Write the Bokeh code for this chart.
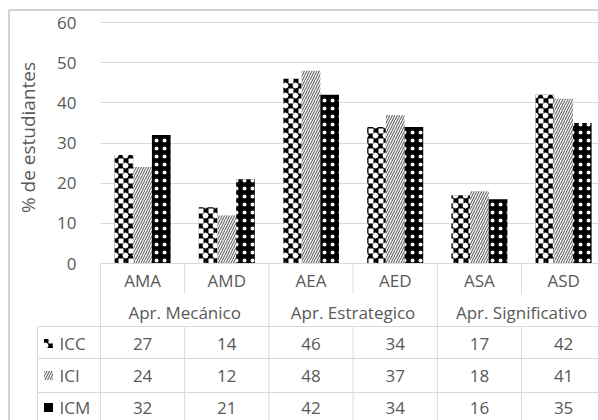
from math import pi
from bokeh.plotting import figure
from bokeh.models import ColumnDataSource, Range1d, FixedTicker
from bokeh.core.properties import value
from bokeh.transform import dodge
from bokeh.embed import file_html
from bokeh.resources import INLINE

categories = ["AMA", "AMD", "AEA", "AED", "ASA", "ASD"]
groups = ["Apr. Mecánico", "Apr. Estrategico", "Apr. Significativo"]
series = ["ICC", "ICI", "ICM"]
icc = [27, 14, 46, 34, 17, 42]
ici = [24, 12, 48, 37, 18, 41]
icm = [32, 21, 42, 34, 16, 35]
y_ticks = [0, 10, 20, 30, 40, 50, 60]
y_label = "% de estudiantes"

FONT = "Open Sans"
TXT = "#595959"
GRID = "#d9d9d9"
FS = "17px"

PX_Y = 241 / 60.0
PX_X = 84.2
def ydat(page_y):
    return (263 - page_y) / PX_Y
def xdat(page_x):
    return (page_x - 100) / PX_X

p = figure(width=598, height=420, output_backend="svg", toolbar_location=None,
           x_range=Range1d(0, xdat(598)), y_range=Range1d(ydat(420), ydat(0)),
           min_border_left=100, min_border_right=0, min_border_top=0, min_border_bottom=0)
p.outline_line_color = None
p.background_fill_color = "white"
p.border_fill_color = "white"
p.xaxis.visible = False
p.xgrid.visible = False
p.yaxis.ticker = FixedTicker(ticks=y_ticks)
p.ygrid.ticker = FixedTicker(ticks=y_ticks)
p.ygrid.grid_line_color = GRID
p.yaxis.axis_line_color = None
p.yaxis.major_tick_line_color = None
p.yaxis.minor_tick_line_color = None
p.yaxis.major_label_standoff = 18
p.yaxis.major_label_text_font = FONT
p.yaxis.major_label_text_font_size = FS
p.yaxis.major_label_text_color = TXT

xs = [i + 0.5 for i in range(len(categories))]
src = ColumnDataSource(dict(x=xs, cat=categories, icc=icc, ici=ici, icm=icm))

bw = 18.67 / PX_X
# checkerboard = thick black cross hatch, then white dot + white ring hatch on top
sty_icc_a = dict(fill_color="white", line_color=None, hatch_pattern="cross",
                 hatch_color="black", hatch_scale=10, hatch_weight=5)
sty_icc_b = dict(fill_alpha=0, line_color=None, hatch_pattern="dot",
                 hatch_color="white", hatch_scale=10)
sty_icc_c = dict(fill_alpha=0, line_color=None, hatch_pattern="ring",
                 hatch_color="white", hatch_scale=10, hatch_weight=1)
sty_ici = dict(fill_color="white", line_color=None, hatch_pattern="right_diagonal_line",
               hatch_color="#6e6e6e", hatch_scale=5, hatch_weight=1.2)
sty_icm = dict(fill_color="black", line_color=None, hatch_pattern="dot",
               hatch_color="white", hatch_scale=8, hatch_weight=1)

for sty in (sty_icc_a, sty_icc_b, sty_icc_c):
    p.vbar(x=dodge("x", -bw, range=p.x_range), top="icc", width=bw, source=src, **sty)
p.vbar(x=dodge("x", 0, range=p.x_range), top="ici", width=bw, source=src, **sty_ici)
p.vbar(x=dodge("x", bw, range=p.x_range), top="icm", width=bw, source=src, **sty_icm)

# table grid lines
n = len(categories)
y0, y_cat_end, y_r1, y_r2, y_r3, y_bot = ydat(263), ydat(293), ydat(326), ydat(358), ydat(392), ydat(430)
xl = xdat(37)
seg_x0, seg_y0, seg_x1, seg_y1 = [], [], [], []
for yy, xa in [(y0, 0), (y_r1, xl), (y_r2, xl), (y_r3, xl)]:
    seg_x0.append(xa); seg_x1.append(n + 0.5); seg_y0.append(yy); seg_y1.append(yy)
for k in range(0, n + 1, 2):
    seg_x0.append(k); seg_x1.append(k); seg_y0.append(y0); seg_y1.append(y_bot)
for k in range(1, n, 2):
    seg_x0 += [k, k]; seg_x1 += [k, k]; seg_y0 += [y0, y_r1]; seg_y1 += [y_cat_end, y_bot]
seg_x0.append(xl); seg_x1.append(xl); seg_y0.append(y_r1); seg_y1.append(y_bot)
p.segment(seg_x0, seg_y0, seg_x1, seg_y1, line_color=GRID, line_width=1, level="overlay")

# outer chart border (left and top)
p.segment([xdat(8.5), xdat(8.5)], [ydat(430), ydat(9.5)], [xdat(8.5), n + 0.5], [ydat(9.5), ydat(9.5)],
          line_color="#c4c4c4", line_width=1.5, level="overlay")

# table texts
tstyle = dict(text_font=value(FONT), text_font_size=FS, text_color=TXT,
              text_align="center", text_baseline="middle", level="overlay")
p.text(x="x", y=ydat(280), text="cat", source=src, **tstyle)
gx = [2 * i + 1 for i in range(len(groups))]
p.text(x=gx, y=[ydat(312)] * len(groups), text=groups, **tstyle)
row_y = [343, 375, 407]
for vals, py in zip([icc, ici, icm], row_y):
    p.text(x=xs, y=[ydat(py)] * n, text=[str(v) for v in vals], **tstyle)

# legend column of the data table (keys + series names)
kx = xdat(48)
kw = 9 / PX_X
kh = 9 / PX_Y
for sty in (sty_icc_a, sty_icc_b, sty_icc_c):
    p.rect(x=[kx], y=[ydat(row_y[0])], width=kw, height=kh, level="overlay", **sty)
p.rect(x=[kx], y=[ydat(row_y[1])], width=kw, height=kh, level="overlay", **sty_ici)
p.rect(x=[kx], y=[ydat(row_y[2])], width=kw, height=kh, level="overlay",
       fill_color="black", line_color=None)
p.text(x=[xdat(59)] * 3, y=[ydat(py) for py in row_y], text=series,
       text_font=value(FONT), text_font_size=FS, text_color=TXT,
       text_align="left", text_baseline="middle", level="overlay")

# axis title
p.text(x=[xdat(27)], y=[ydat(137)], text=[y_label], angle=pi / 2,
       text_font=value(FONT), text_font_size="19px", text_color=TXT,
       text_align="center", text_baseline="middle", level="overlay")

open("out.html", "w").write(file_html(p, INLINE))
